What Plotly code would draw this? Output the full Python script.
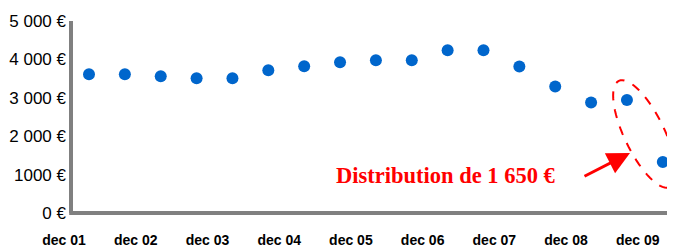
import numpy as np
import plotly.graph_objects as go

# Data (semi-annual observations, December labels every other point)
period_index = list(range(17))
values = [3616, 3616, 3564, 3512, 3512, 3719, 3823, 3927, 3979, 3979,
          4239, 4239, 3813, 3294, 2878, 2940, 1330]
tick_labels = ["dec 01", "dec 02", "dec 03", "dec 04", "dec 05",
               "dec 06", "dec 07", "dec 08", "dec 09"]
tick_positions = [0, 2, 4, 6, 8, 10, 12, 14, 16]
y_ticks = [0, 1000, 2000, 3000, 4000, 5000]
y_tick_labels = ["0 €", "1000 €", "2 000 €", "3 000 €", "4 000 €", "5 000 €"]
note = "Distribution de 1 650 €"

# The page body adds an 8px offset; geometry below is in screen pixels.
OFF = 8
W, H = 675 - OFF, 249 - OFF
P_LEFT, P_RIGHT, P_TOP, P_BOTTOM = 71, 675, 21, 213
ML, MR, MT, MB = P_LEFT - OFF, 675 - P_RIGHT, P_TOP - OFF, 249 - P_BOTTOM
PW, PH = P_RIGHT - P_LEFT, P_BOTTOM - P_TOP


def px2paper(x, y):
    return (x - P_LEFT) / PW, (P_BOTTOM - y) / PH


fig = go.Figure()
fig.add_trace(go.Scatter(
    x=period_index, y=values, mode="markers",
    marker=dict(color="#0066CC", size=12),
    hoverinfo="skip", showlegend=False, cliponaxis=False,
))

# Axis lines (centred on the plot edges)
fig.add_shape(type="line", xref="paper", yref="paper", x0=0, x1=0, y0=0, y1=1,
              line=dict(color="#808080", width=4))
fig.add_shape(type="line", xref="paper", yref="paper", x0=-0.003, x1=1, y0=0, y1=0,
              line=dict(color="#808080", width=4))

# Dashed ellipse around last two points (pixel geometry -> paper)
cx, cy, a, b = 644.5, 134, 59, 20
th = np.deg2rad(25.8)
t = np.linspace(0, 2 * np.pi, 73)
ux, uy = np.sin(th), np.cos(th)        # major axis direction (pixel space)
vx, vy = np.cos(th), -np.sin(th)       # minor axis direction
ex = cx + a * np.cos(t) * ux + b * np.sin(t) * vx
ey = cy + a * np.cos(t) * uy + b * np.sin(t) * vy
pts = [px2paper(x, y) for x, y in zip(ex, ey)]
path = "M " + " L ".join(f"{p[0]:.5f},{p[1]:.5f}" for p in pts) + " Z"
fig.add_shape(type="path", path=path, xref="paper", yref="paper",
              line=dict(color="#FF0000", width=2, dash="dash"))

hx, hy = px2paper(630, 153)
fig.add_annotation(x=hx, y=hy, xref="paper", yref="paper", text="",
                   showarrow=True, ax=-47, ay=24, arrowhead=2,
                   arrowsize=1.5, arrowwidth=3, arrowcolor="#FF0000",
                   standoff=0)
tx, ty = px2paper(445, 175)
fig.add_annotation(x=tx, y=ty, xref="paper", yref="paper", text=note,
                   showarrow=False, xanchor="center", yanchor="middle",
                   font=dict(family="Liberation Serif", size=22.5,
                             color="#FF0000", weight="bold"))

fig.update_layout(
    width=W, height=H,
    margin=dict(l=ML, r=MR, t=MT, b=MB, pad=0),
    plot_bgcolor="white", paper_bgcolor="white",
    xaxis=dict(range=[-0.502, 16.34], tickvals=tick_positions,
               ticktext=tick_labels, showgrid=False, zeroline=False,
               showline=False, ticks="", ticklabelshift=-25,
               ticklabelstandoff=17, automargin=False,
               tickfont=dict(family="Liberation Sans", size=14,
                             color="black", weight="bold")),
    yaxis=dict(range=[0, 5000], tickvals=y_ticks, ticktext=y_tick_labels,
               showgrid=False, zeroline=False, showline=False, ticks="",
               ticklabelstandoff=4, automargin=False,
               tickfont=dict(family="Liberation Sans", size=17,
                             color="black")),
)

fig.write_html("out.html")
